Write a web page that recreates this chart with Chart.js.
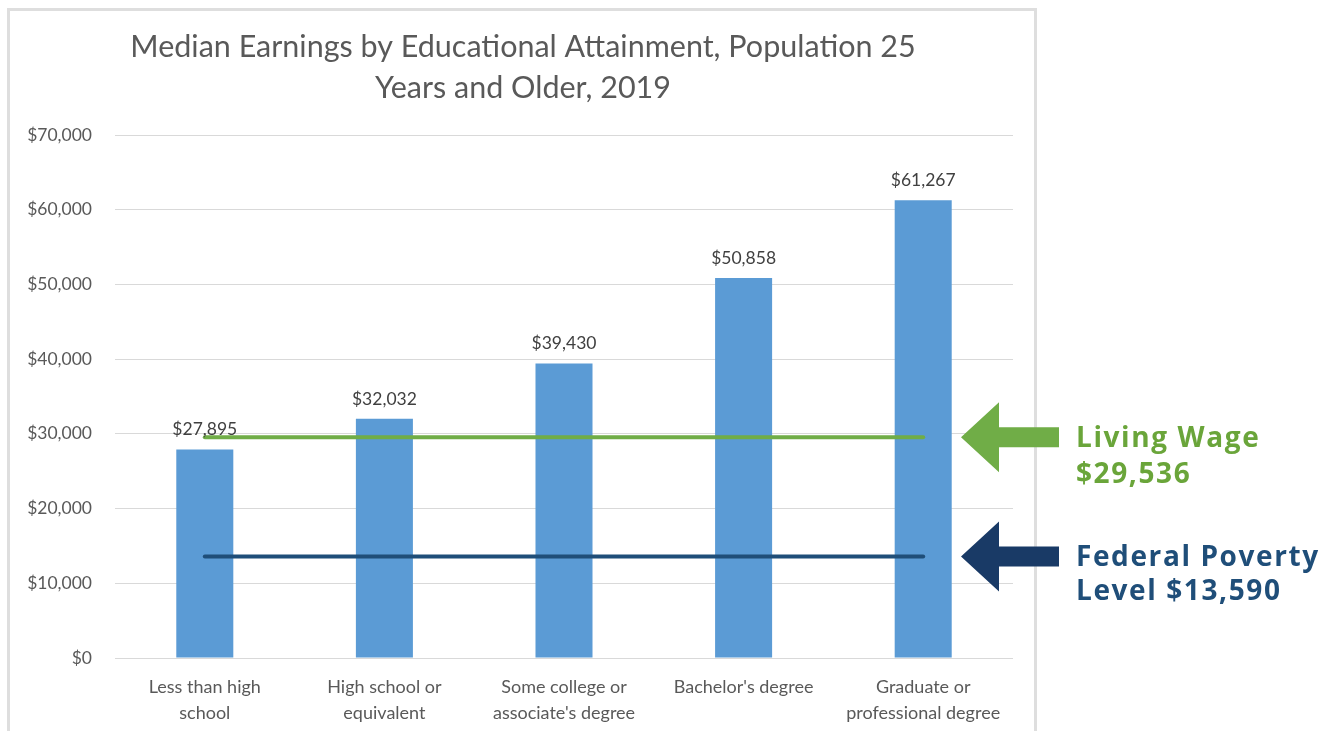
<!DOCTYPE html>
<html>
<head>
<meta charset="utf-8">
<script src="https://cdn.jsdelivr.net/npm/chart.js@4.4.0/dist/chart.umd.min.js"></script>
<style>
  html, body { margin: 0; padding: 0; background: #fff; }
  #wrap { position: relative; width: 1326px; height: 731px; overflow: hidden; }
</style>
</head>
<body>
<div id="wrap"><canvas id="chart" width="1326" height="731"></canvas></div>
<script>
// data
const categories = [
  ['Less than high', 'school'],
  ['High school or', 'equivalent'],
  ['Some college or', "associate's degree"],
  ["Bachelor's degree"],
  ['Graduate or', 'professional degree']
];
const earnings = [27895, 32032, 39430, 50858, 61267];
const livingWage = [29536, 29536, 29536, 29536, 29536];
const povertyLevel = [13590, 13590, 13590, 13590, 13590];
const titleLines = ['Median Earnings by Educational Attainment, Population 25', 'Years and Older, 2019'];

const money = v => '$' + v.toLocaleString('en-US');

// title, frame, bar labels and the arrow call-outs on the right
const extras = {
  id: 'extras',
  beforeDraw(chart) {
    const ctx = chart.ctx;
    ctx.save();
    ctx.strokeStyle = '#dedede';
    ctx.lineWidth = 3;
    ctx.strokeRect(8.5, 9.5, 1027, 760);
    ctx.fillStyle = '#595959';
    ctx.font = '30.5px Lato';
    ctx.textAlign = 'center';
    ctx.textBaseline = 'middle';
    ctx.fillText(titleLines[0], 523, 47);
    ctx.fillText(titleLines[1], 523, 88);
    ctx.restore();
  },
  afterDraw(chart) {
    const ctx = chart.ctx;
    const y = chart.scales.y;
    ctx.save();
    // labels above bars
    const bars = chart.getDatasetMeta(2).data;
    ctx.fillStyle = '#404040';
    ctx.font = '17.5px Lato';
    ctx.textAlign = 'center';
    ctx.textBaseline = 'bottom';
    bars.forEach((b, i) => ctx.fillText(money(earnings[i]), b.x, b.y - 11));

    const callout = (val, color, textColor, lines, gap) => {
      const cy = y.getPixelForValue(val);
      ctx.fillStyle = color;
      ctx.beginPath();
      ctx.moveTo(961, cy);
      ctx.lineTo(999, cy - 35);
      ctx.lineTo(999, cy - 10);
      ctx.lineTo(1059, cy - 10);
      ctx.lineTo(1059, cy + 10);
      ctx.lineTo(999, cy + 10);
      ctx.lineTo(999, cy + 35);
      ctx.closePath();
      ctx.fill();
      ctx.fillStyle = textColor;
      ctx.font = 'bold 28px "Open Sans"';
      ctx.letterSpacing = '1.6px';
      ctx.textAlign = 'left';
      ctx.textBaseline = 'alphabetic';
      ctx.fillText(lines[0], 1076, cy + 10);
      ctx.fillText(lines[1], 1076, cy + 10 + gap);
      ctx.letterSpacing = '0px';
    };
    callout(livingWage[0], '#70AD47', '#6AA53A', ['Living Wage', money(livingWage[0])], 36);
    callout(povertyLevel[0], '#193A66', '#1F4E79', ['Federal Poverty', 'Level ' + money(povertyLevel[0])], 34);
    ctx.restore();
  }
};

new Chart(document.getElementById('chart'), {
  data: {
    labels: categories,
    datasets: [
      {
        type: 'line',
        label: 'Living Wage',
        data: livingWage,
        borderColor: '#70AD47',
        borderWidth: 4,
        borderCapStyle: 'round',
        pointRadius: 0,
        order: 1
      },
      {
        type: 'line',
        label: 'Federal Poverty Level',
        data: povertyLevel,
        borderColor: '#1F4E79',
        borderWidth: 4,
        borderCapStyle: 'round',
        pointRadius: 0,
        order: 1
      },
      {
        type: 'bar',
        label: 'Median Earnings',
        data: earnings,
        backgroundColor: '#5B9BD5',
        barPercentage: 0.635,
        categoryPercentage: 0.5,
        order: 2
      }
    ]
  },
  options: {
    responsive: false,
    animation: false,
    layout: { padding: { top: 135, right: 313, left: 0, bottom: 0 } },
    plugins: { legend: { display: false }, tooltip: { enabled: false } },
    scales: {
      x: {
        grid: { display: false },
        border: { display: false },
        ticks: {
          color: '#595959',
          font: { family: 'Lato', size: 18, lineHeight: 1.44 },
          padding: 8,
          maxRotation: 0,
          autoSkip: false
        },
        afterFit(s) { s.height = 73; }
      },
      y: {
        min: 0,
        max: 70000,
        grid: { color: '#d9d9d9', lineWidth: 1, drawTicks: false },
        border: { display: false },
        ticks: {
          stepSize: 10000,
          color: '#595959',
          font: { family: 'Lato', size: 17.5 },
          padding: 23,
          callback: v => money(v)
        },
        afterFit(s) { s.width = 115; }
      }
    }
  },
  plugins: [extras]
});
</script>
</body>
</html>
